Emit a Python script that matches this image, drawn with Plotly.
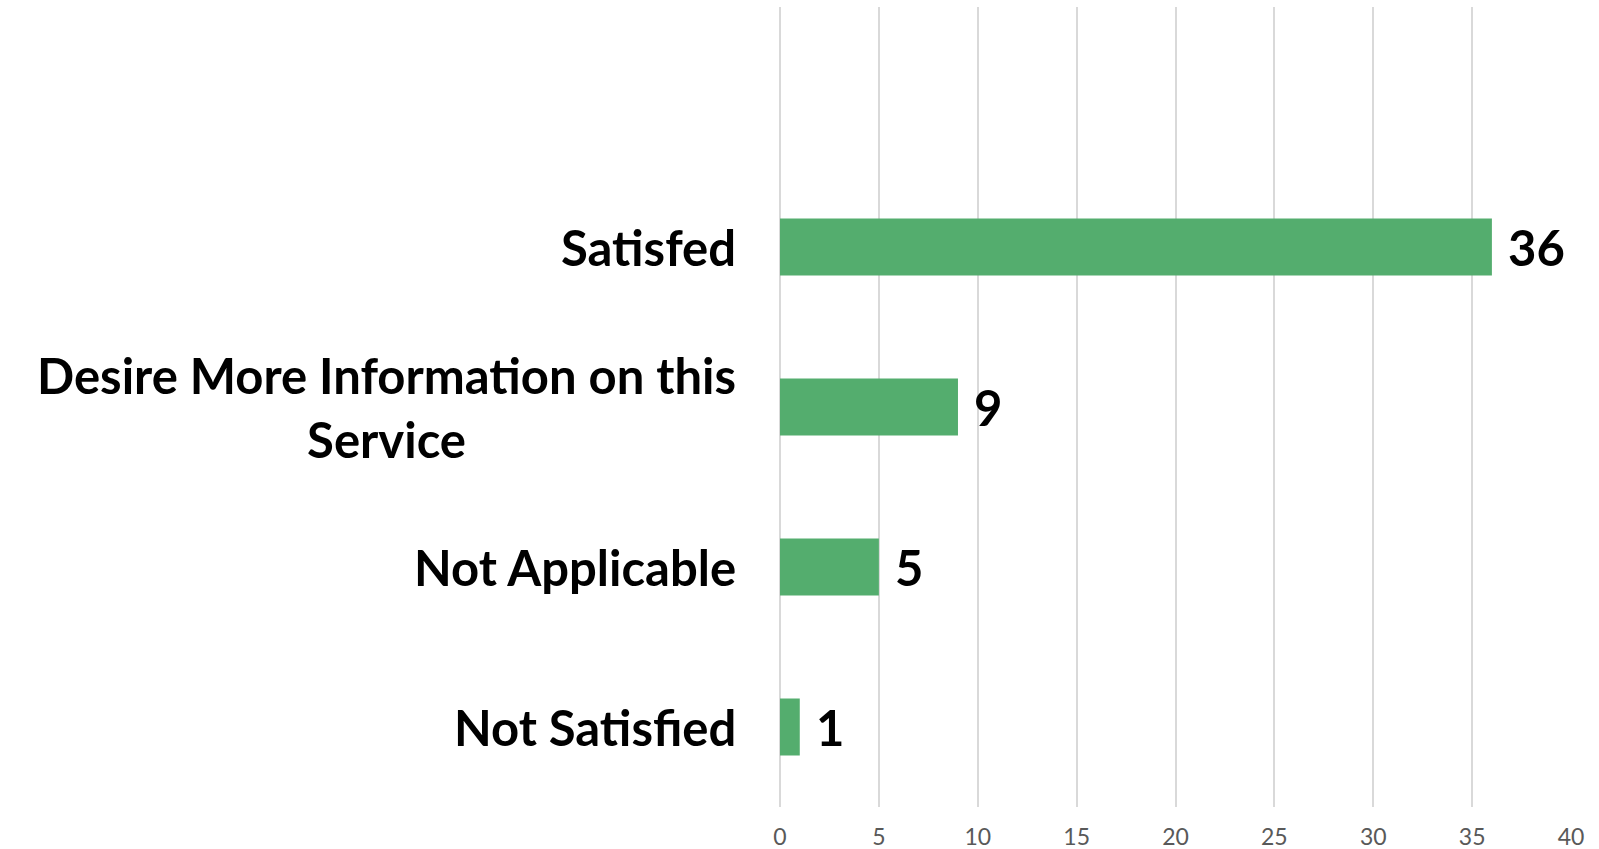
import plotly.graph_objects as go

# Survey responses, listed top to bottom
categories = ["Satisfed", "Desire More Information on this<br>Service", "Not Applicable", "Not Satisfied"]
counts = [36, 9, 5, 1]
x_ticks = [0, 5, 10, 15, 20, 25, 30, 35, 40]

bar_color = "#54AD6E"
label_font = dict(family="Lato", size=49, color="#000000", weight="bold")

# bottom row sits at 0; an empty band is left above the top row
n = len(categories)
y_pos = [n - 1 - i for i in range(n)]

fig = go.Figure()
fig.add_trace(go.Bar(
    x=counts,
    y=y_pos,
    orientation="h",
    width=0.355,
    marker=dict(color=bar_color, line=dict(width=0)),
    hoverinfo="skip",
))

# category labels, centered multi-line text to the left of the axis
for cat, y in zip(categories, y_pos):
    fig.add_annotation(
        x=0, xref="paper", y=y, yref="y",
        text=cat, showarrow=False,
        xanchor="right", yanchor="middle", align="center",
        xshift=-42, font=label_font,
    )

# value labels just past each bar end
for v, y in zip(counts, y_pos):
    fig.add_annotation(
        x=v, xref="x", y=y, yref="y",
        text=str(v), showarrow=False,
        xanchor="left", yanchor="middle",
        xshift=14, font=label_font,
    )

fig.update_layout(
    width=1599, height=849,
    margin=dict(l=780, r=28, t=7, b=42),
    paper_bgcolor="white", plot_bgcolor="white",
    showlegend=False,
    xaxis=dict(
        range=[0, 40], tickvals=x_ticks, ticktext=[str(t) for t in x_ticks],
        showgrid=True, gridcolor="#D9D9D9", gridwidth=1.5,
        zeroline=True, zerolinecolor="#D9D9D9", zerolinewidth=1.5,
        showline=False, ticks="", ticklabelstandoff=14, automargin=False,
        tickfont=dict(family="Lato", size=23, color="#595959", weight="normal"),
        fixedrange=True,
    ),
    yaxis=dict(
        range=[-0.5, n + 0.5], showticklabels=False, showgrid=False,
        zeroline=False, showline=False, ticks="", fixedrange=True,
        automargin=False,
    ),
)

fig.write_html("out.html")
